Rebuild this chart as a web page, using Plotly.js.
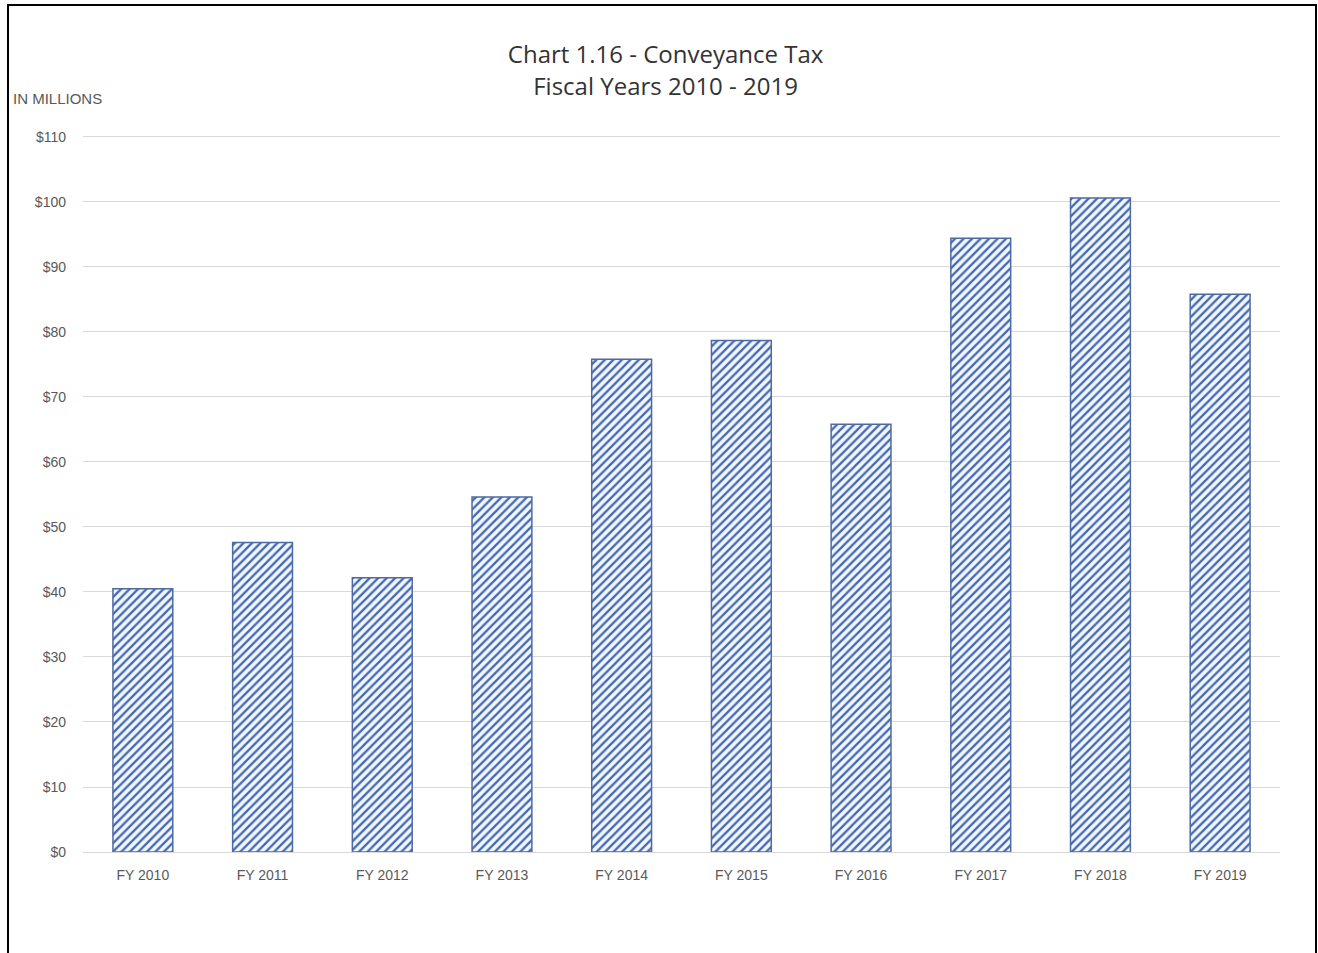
<!DOCTYPE html>
<html>
<head>
<meta charset="utf-8">
<script src="https://cdn.plot.ly/plotly-3.0.1.min.js"></script>
<style>
html,body{margin:0;padding:0;background:#fff;}
#frame{position:absolute;left:7px;top:4px;width:1310px;height:960px;border:2px solid #000;box-sizing:border-box;pointer-events:none;z-index:10;}
#chart{position:absolute;left:0;top:0;width:1318px;height:953px;}
</style>
</head>
<body>
<div id="chart"></div>
<div id="frame"></div>
<script>
const categories = ["FY 2010","FY 2011","FY 2012","FY 2013","FY 2014","FY 2015","FY 2016","FY 2017","FY 2018","FY 2019"];
const values = [40.5, 47.6, 42.2, 54.6, 75.8, 78.7, 65.8, 94.4, 100.6, 85.8];
const yTickVals = [0,10,20,30,40,50,60,70,80,90,100,110];
const yTickText = ["$0","$10","$20","$30","$40","$50","$60","$70","$80","$90","$100","$110"];

const trace = {
  type: "bar",
  x: categories,
  y: values,
  marker: {
    color: "#f2f7fd",
    line: {color: "#4f6aa3", width: 1.5},
    pattern: {shape: "/", fgcolor: "#4468b4", bgcolor: "#f2f7fd", size: 6, solidity: 0.38}
  },
  hoverinfo: "x+y"
};

const layout = {
  width: 1318, height: 953,
  margin: {l: 83, r: 38, t: 135, b: 101},
  paper_bgcolor: "#fff", plot_bgcolor: "#fff",
  bargap: 0.5,
  showlegend: false,
  font: {family: "Liberation Sans, Arial, sans-serif", color: "#595959"},
  title: {
    text: "Chart 1.16 - Conveyance Tax<br>Fiscal Years 2010 - 2019",
    font: {family: "Open Sans, Noto Sans, sans-serif", size: 24, color: "#333"},
    x: 0.505, xanchor: "center", y: 0.9335, yanchor: "middle"
  },
  xaxis: {
    type: "category",
    showgrid: false,
    showline: true, linecolor: "#d9d9d9", linewidth: 1,
    ticks: "", tickfont: {size: 14, color: "#595959"},
    ticklabelstandoff: 10
  },
  yaxis: {
    range: [0, 110.3],
    tickvals: yTickVals, ticktext: yTickText,
    showgrid: true, gridcolor: "#d9d9d9", gridwidth: 1,
    zeroline: false, ticks: "",
    tickfont: {size: 14, color: "#595959"},
    ticklabelstandoff: 16
  },
  annotations: [{
    text: "IN MILLIONS", xref: "paper", yref: "paper",
    x: -0.060, y: 1.051, xanchor: "left", yanchor: "middle",
    showarrow: false, font: {size: 15, color: "#595959"}
  }]
};

Plotly.newPlot("chart", [trace], layout, {displayModeBar: false});
</script>
</body>
</html>
